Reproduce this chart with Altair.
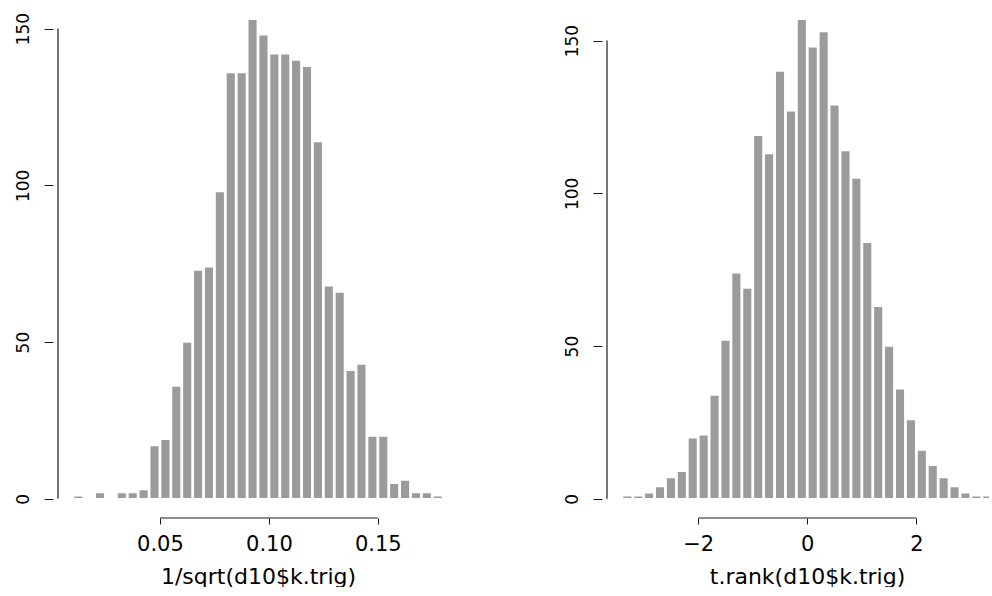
import altair as alt
import pandas as pd

# ---- data ----
left_edges = [0.010, 0.015, 0.020, 0.025, 0.030, 0.035, 0.040, 0.045, 0.050, 0.055,
              0.060, 0.065, 0.070, 0.075, 0.080, 0.085, 0.090, 0.095, 0.100, 0.105,
              0.110, 0.115, 0.120, 0.125, 0.130, 0.135, 0.140, 0.145, 0.150, 0.155,
              0.160, 0.165, 0.170, 0.175, 0.180]
left_counts = [1, 0, 2, 0, 2, 2, 3, 17, 19, 36, 50, 73, 74, 98, 136, 136, 153, 148,
               142, 142, 140, 138, 114, 68, 66, 41, 43, 20, 20, 5, 6, 2, 2, 1]

right_edges = [-3.4, -3.2, -3.0, -2.8, -2.6, -2.4, -2.2, -2.0, -1.8, -1.6, -1.4, -1.2,
               -1.0, -0.8, -0.6, -0.4, -0.2, 0.0, 0.2, 0.4, 0.6, 0.8, 1.0, 1.2, 1.4,
               1.6, 1.8, 2.0, 2.2, 2.4, 2.6, 2.8, 3.0, 3.2, 3.4]
right_counts = [1, 1, 2, 4, 7, 9, 20, 21, 34, 52, 74, 69, 119, 113, 140, 127, 157, 148,
                153, 129, 114, 105, 84, 63, 50, 36, 26, 16, 11, 7, 4, 2, 1, 1]

left_ticks = [0.05, 0.10, 0.15]
right_ticks = [-2, 0, 2]
y_ticks = [0, 50, 100, 150]

left_title = "1/sqrt(d10$k.trig)"
right_title = "t.rank(d10$k.trig)"

FONT = "DejaVu Sans"
BAR = "#9b9b9b"
AX = "#1a1a1a"
H = 518


def panel(edges, counts, ticks, title, xdom, ydom, width, fmt, title_x):
    df = pd.DataFrame({"start": edges[:-1], "end": edges[1:], "count": counts})
    df["mid"] = (df["start"] + df["end"]) / 2
    df = df[df["count"] > 0]
    xs = alt.Scale(domain=xdom, nice=False, zero=False)
    ys = alt.Scale(domain=ydom, nice=False, zero=False)
    xaxis = alt.Axis(
        values=ticks, format=fmt, title=title, domain=False, grid=False,
        tickSize=6, tickColor=AX, tickWidth=1,
        labelFont=FONT, labelFontSize=21, labelColor="black",
        labelBaseline="alphabetic", labelPadding=26, labelFlush=False,
        titleFont=FONT, titleFontSize=22, titleFontWeight="normal", titleColor="black",
        titleX=title_x, titleY=65, titleBaseline="alphabetic", titleAlign="center",
    )
    yaxis = alt.Axis(
        values=y_ticks, title=None, domain=False, grid=False,
        tickSize=9, tickColor=AX, tickWidth=1,
        labelFont=FONT, labelFontSize=17, labelColor="black",
        labelAngle=270, labelAlign="center", labelBaseline="alphabetic",
        labelPadding=16, labelFlush=False,
    )
    bars = alt.Chart(df).mark_bar(
        color=BAR, stroke="white", strokeWidth=1.5, size=9.6, clip=True,
        orient="vertical",
    ).encode(
        x=alt.X("mid:Q", scale=xs, axis=xaxis),
        y=alt.Y("count:Q", scale=ys, axis=yaxis),
        y2=alt.datum(0),
    )
    # axis lines, spanning first to last tick as in base R graphics
    xline_df = pd.DataFrame({"mid": [ticks[0]], "b": [ticks[-1]], "count": [ydom[0]]})
    xline = alt.Chart(xline_df).mark_rule(color=AX, strokeWidth=1.2).encode(
        x=alt.X("mid:Q", scale=xs, axis=xaxis),
        x2="b:Q",
        y=alt.Y("count:Q", scale=ys, axis=yaxis),
    )
    yline_df = pd.DataFrame({"mid": [xdom[0]], "count": [y_ticks[0]], "hi": [y_ticks[-1]]})
    yline = alt.Chart(yline_df).mark_rule(color=AX, strokeWidth=1.2).encode(
        x=alt.X("mid:Q", scale=xs, axis=xaxis),
        y=alt.Y("count:Q", scale=ys, axis=yaxis),
        y2="hi:Q",
    )
    return alt.layer(bars, xline, yline).properties(width=width, height=H)


left = panel(left_edges, left_counts, left_ticks, left_title,
             [0.0032, 0.1868], [-6.12, 159.12], 410, ".2f", 205)
right = panel(right_edges, right_counts, right_ticks, right_title,
              [-3.672, 3.24], [-6.28, 163.28], 387, "d", 205)

chart = alt.hconcat(left, right, spacing=139, bounds="flush").properties(
    padding={"left": 13, "top": 0, "right": 0, "bottom": 0}
).configure_view(stroke=None)

chart.save("out.html", embed_options={"renderer": "svg", "actions": False})
